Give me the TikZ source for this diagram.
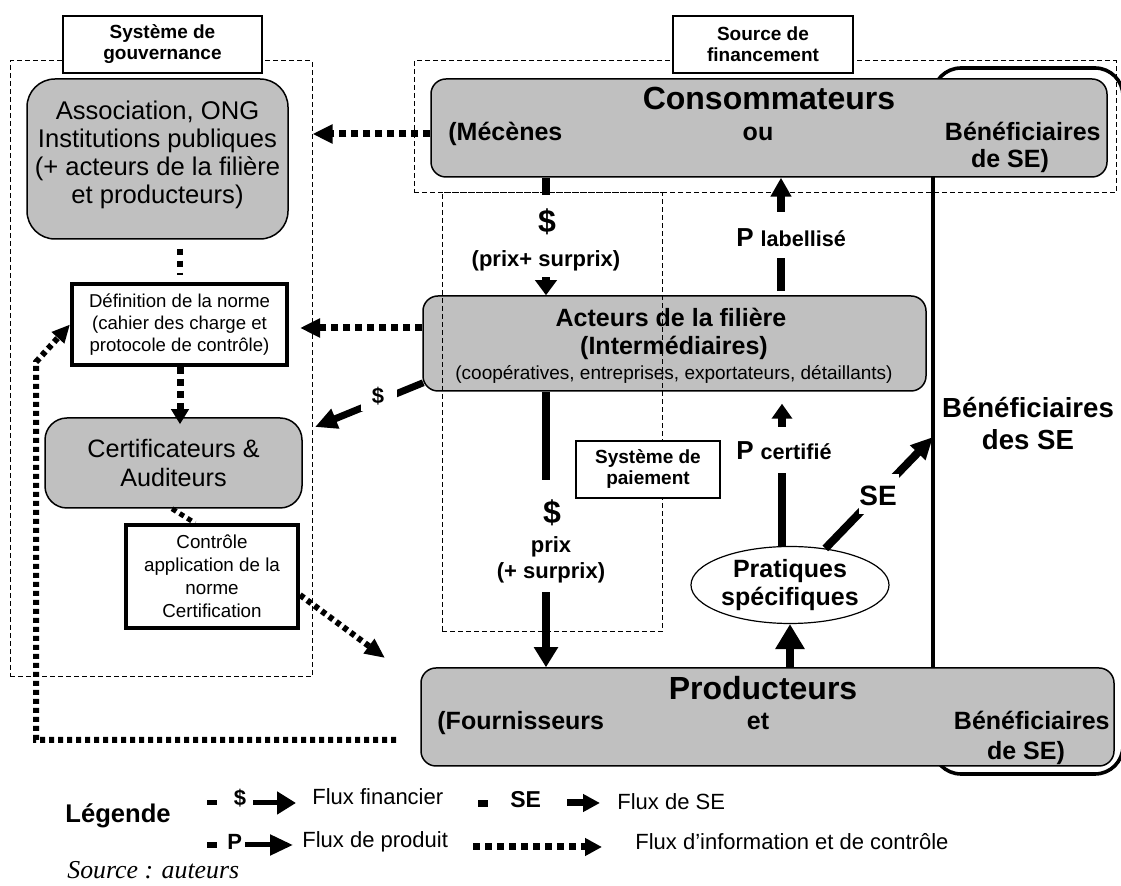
\documentclass[tikz,border=0pt]{standalone}
\usepackage{fontspec}
\setmainfont{Liberation Sans}
\newfontfamily\timesit{Liberation Serif}
\usetikzlibrary{arrows.meta,shapes.geometric,calc}
\definecolor{boxgray}{RGB}{192,192,192}
\newcommand{\myfs}[2]{\fontsize{#1}{#2}\selectfont}
\begin{document}
\begin{tikzpicture}[x=0.5pt,y=-0.5pt,
  dashbox/.style={draw, dash pattern=on 2.5pt off 1.5pt, line width=0.5pt, inner sep=0pt},
  grayrnd/.style={draw, fill=boxgray, line width=0.75pt, inner sep=0pt, rounded corners=7.5pt},
  tagbox/.style={draw, fill=white, line width=0.6pt, inner sep=0pt, align=center, font=\bfseries\myfs{9.5}{10.5}, minimum height=28.5pt},
  normbox/.style={draw, fill=white, line width=2pt, inner sep=0pt, align=center, font=\myfs{9.3}{11}},
  txt/.style={inner sep=0pt, font=\bfseries\myfs{12.5}{14}},
  flow/.style={line width=4pt},
  gapnode/.style={fill=white, inner sep=0pt, draw=none},
  dotflow/.style={line width=3.5pt, dash pattern=on 3.5pt off 2.5pt},
  dotfine/.style={line width=3pt, dash pattern=on 2.5pt off 2pt},
  legtext/.style={inner sep=0pt, font=\myfs{11}{13}, anchor=base west},
]
\fill[white] (0,0) rectangle (1121,886);
\useasboundingbox (0,0) rectangle (1121,886);

% dashed frames
\node[dashbox, minimum width=151pt, minimum height=308pt] (gov) at (161,369) {};
\node[dashbox, minimum width=351pt, minimum height=66pt] (src) at (765,127) {};

% loop of beneficiaries
\draw[line width=1.8pt, rounded corners=14pt] (933,68) rectangle (1123,774);
\coordinate (seend) at (933,437);

% governance side
\node[grayrnd, rounded corners=14pt, minimum width=130.5pt, minimum height=80pt] (assoc) at (157.5,159) {};
\node[inner sep=0pt, align=center, font=\myfs{12.8}{14}] (assoct) at (157.5,155) {Association, ONG\\Institutions publiques\\(+ acteurs de la filière\\et producteurs)};
\node[grayrnd, rounded corners=11pt, minimum width=128.5pt, minimum height=45pt, align=center, font=\myfs{12.6}{15}] (cert) at (173.5,463) {Certificateurs \&\\Auditeurs};
\node[normbox, minimum width=107.5pt, minimum height=40.5pt] (def) at (179.5,324.5) {Définition de la norme\\(cahier des charge et\\protocole de contrôle)};
\node[normbox, minimum width=86pt, minimum height=51.5pt, font=\myfs{9.4}{11.5}] (ctrl) at (212,576.5) {Contrôle\\application de la\\norme\\Certification};

% chain
\node[grayrnd, minimum width=338pt, minimum height=49pt] (cons) at (769,128) {};
\node[grayrnd, minimum width=251.5pt, minimum height=47.5pt] (act) at (674.5,343.5) {};
\node[grayrnd, minimum width=346.5pt, minimum height=49pt] (prod) at (767.5,717) {};
\node[draw, fill=white, ellipse, line width=0.6pt, inner sep=0pt, minimum width=99pt, minimum height=38.5pt, align=center, font=\bfseries\myfs{12.5}{14}] (prat) at (790,585) {Pratiques\\spécifiques};

\node[txt, font=\bfseries\myfs{16}{18}, anchor=base] (consT) at (769,110) {Consommateurs};
\node[txt, anchor=base west] (consA) at (448,141) {(Mécènes};
\node[txt, anchor=base] (consB) at (758,141) {ou};
\node[txt, anchor=base east] (consC) at (1101,141) {Bénéficiaires};
\node[txt, anchor=base] (consD) at (1010,168) {de SE)};

\node[txt, anchor=base] (actA) at (671,327) {Acteurs de la filière};
\node[txt, anchor=base] (actB) at (674,355) {(Intermédiaires)};
\node[txt, font=\myfs{9.5}{11}, anchor=base] (actC) at (674,380) {(coopératives, entreprises, exportateurs, détaillants)};

\node[txt, font=\bfseries\myfs{16}{18}, anchor=base] (prodT) at (763,700) {Producteurs};
\node[txt, anchor=base west] (prodA) at (437,730) {(Fournisseurs};
\node[txt, anchor=base] (prodB) at (758,730) {et};
\node[txt, anchor=base east] (prodC) at (1110,730) {Bénéficiaires};
\node[txt, anchor=base] (prodD) at (1026,760) {de SE)};

\node[txt, font=\bfseries\myfs{13.8}{16}, align=center] (benef) at (1028,424) {Bénéficiaires\\des SE};

% payment frame (drawn over the actors box)
\node[dashbox, minimum width=110pt, minimum height=219.5pt] (pay) at (552,412.5) {};

% tags
\node[tagbox, minimum width=99.5pt] (govtag) at (162.5,44.5) {Système de\\gouvernance};
\node[tagbox, minimum width=90pt] (srctag) at (763,44.5) {Source de\\financement};
\node[tagbox, minimum width=72pt] (paytag) at (648,469.5) {Système de\\paiement};

% helper coordinates
\coordinate (xa) at (546,0);
\coordinate (xb) at (781,0);
\coordinate (xc) at (790,0);
\coordinate (xd) at (782,0);
\coordinate (xf) at (180,0);

% money: consumers -> actors
\draw[flow, -{Triangle[length=7.5pt,width=10.5pt]}] (cons.south -| xa) -- (act.north -| xa);
\node[gapnode, minimum width=8pt, minimum height=41pt] (g1) at (546,236) {};
\node[txt, font=\bfseries\myfs{16}{18}] (l1a) at (547,222) {\$};
\node[txt, font=\bfseries\myfs{11}{13}] (l1b) at (546,261) {(prix+ surprix)};

% money: actors -> producers
\draw[flow, -{Triangle[length=10pt,width=11.5pt]}] (act.south -| xa) -- (prod.north -| xa);
\node[gapnode, minimum width=8pt, minimum height=56pt] (g2) at (546,536) {};
\node[txt, font=\bfseries\myfs{16}{18}] (l2a) at (552,513) {\$};
\node[txt, font=\bfseries\myfs{11}{13}] (l2b) at (551,547) {prix};
\node[txt, font=\bfseries\myfs{11}{13}] (l2c) at (551,573) {(+ surprix)};

% producers -> practices
\draw[flow, -{Triangle[length=12.5pt,width=14pt]}] (prod.north -| xc) -- (prat.south);

% practices -> actors (P certifie)
\draw[flow, -{Triangle[length=7.5pt,width=10pt]}, shorten >=6pt] (prat.north -| xd) -- (act.south -| xd);
\node[gapnode, minimum width=8pt, minimum height=23pt] (g4) at (782,450) {};
\node[txt, anchor=base west] (l4) at (736,460) {{\myfs{13}{15}P} {\myfs{10.8}{13}certifié}};

% actors -> consumers (P labellise)
\draw[flow, -{Triangle[length=9.5pt,width=10pt]}, shorten <=2pt] (act.north -| xb) -- (cons.south -| xb);
\node[gapnode, minimum width=8pt, minimum height=23pt] (g5) at (781,235) {};
\node[txt, anchor=base west] (l5) at (736,247) {{\myfs{13}{15}P} {\myfs{10.8}{13}labellisé}};

% practices -> beneficiaries (SE)
\draw[flow, -{Triangle[length=11pt,width=10pt]}] (prat) -- (seend);
\node[gapnode, minimum width=20pt, minimum height=20pt] (g6) at (878.5,494) {};
\node[txt, font=\bfseries\myfs{14}{16}] (l6) at (878,496) {SE};

% actors -> certifiers ($)
\coordinate (cdend) at (315,427);
\draw[flow, line width=3.5pt, -{Triangle[length=11pt,width=10pt]}] ($(act.south west)+(1,-9)$) -- (cdend);
\node[gapnode, minimum width=18pt, minimum height=13pt] (g7) at (378.5,398.5) {};
\node[txt, font=\bfseries\myfs{11}{13}] (l7) at (378,396) {\$};

% information / control flows
\coordinate (yd1) at (0,134);
\draw[dotflow, -{Triangle[length=10pt,width=9pt]}] (cons.west |- yd1) -- (gov.east |- yd1);
\coordinate (yd2) at (0,328);
\draw[dotflow, -{Triangle[length=10pt,width=9pt]}, shorten >=5.5pt] (act.west |- yd2) -- (def.east |- yd2);
\draw[dotflow, -{Triangle[length=7.5pt,width=8.5pt]}, shorten >=-3.5pt] (def.south -| xf) -- (cert.north -| xf);
\draw[dotflow, line width=3pt, dash pattern=on 3pt off 3pt, shorten <=4.5pt, shorten >=3.5pt] (assoc.south -| xf) -- (def.north -| xf);
\coordinate (xq) at (172,0);
\coordinate (xr) at (195,0);
\draw[dotfine, line width=2.5pt, dash pattern=on 2.5pt off 2pt] (cert.south -| xq) -- (ctrl.north -| xr);
\coordinate (yd6) at (0,595);
\coordinate (ctrlend) at (385,658);
\draw[dotfine, -{Triangle[length=10pt,width=8.5pt]}] (ctrl.east |- yd6) -- (ctrlend);
\coordinate (bigstart) at (396,740);
\draw[dotfine, -{Triangle[length=9pt,width=8pt]}] (bigstart) -- (36,740) -- (36,362) -- (def.west);

% legend
\node[txt, font=\bfseries\myfs{12.8}{15}, anchor=base west] (leg) at (65,823) {Légende};
\fill (207,800) rectangle (217,805);
\node[txt, font=\bfseries\myfs{11}{13}] (lg1) at (240,798) {\$};
\draw[line width=2.5pt, -{Triangle[length=9.5pt,width=11pt]}] (253,803) -- (296,803);
\node[legtext] (lgt1) at (312,805) {Flux financier};
\fill (478,800) rectangle (488,807);
\node[txt, font=\bfseries\myfs{11.5}{13}, anchor=base west] (lgse) at (510,808) {SE};
\draw[line width=3.5pt, -{Triangle[length=8.5pt,width=8.5pt]}] (567,803) -- (600,803);
\node[legtext] (lgt2) at (617,810) {Flux de SE};
\fill (207,842) rectangle (217,848);
\node[txt, font=\bfseries\myfs{11}{13}, anchor=base west] (lgp) at (227,850) {P};
\draw[line width=2.5pt, -{Triangle[length=11.5pt,width=10pt]}] (245,845) -- (293,845);
\node[legtext] (lgt3) at (302,848) {Flux de produit};
\draw[dotflow, -{Triangle[length=8.5pt,width=8.5pt]}] (473,847) -- (602,847);
\node[legtext] (lgt4) at (635,850) {Flux d’information et de contrôle};
\node[inner sep=0pt, font=\timesit\itshape\myfs{12.9}{15}, anchor=base west] (srcnote) at (67,879) {Source : auteurs};
\end{tikzpicture}
\end{document}
